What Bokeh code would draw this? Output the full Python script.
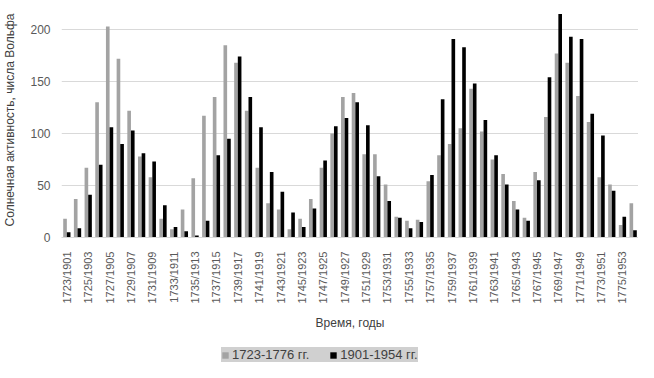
from bokeh.plotting import figure
from bokeh.layouts import column
from bokeh.models import (ColumnDataSource, Range1d, FixedTicker, Legend, LegendItem)
from bokeh.transform import dodge
from bokeh.embed import file_html
from bokeh.resources import INLINE
import math

labels = [f"{1723+i}/{1901+i}" for i in range(54)]
series_1723 = [18, 37, 67, 130, 203, 172, 122, 78, 58, 18, 8, 27, 57, 117, 135, 185,
               168, 122, 67, 33, 27, 8, 18, 37, 67, 100, 135, 139, 80, 80, 51, 20,
               16, 17, 54, 79, 90, 105, 143, 102, 75, 61, 35, 19, 63, 116, 177, 168,
               136, 111, 58, 51, 12, 33]
series_1901 = [5, 9, 41, 70, 106, 90, 103, 81, 73, 31, 10, 6, 2, 16, 79, 95,
               174, 135, 106, 63, 44, 24, 10, 28, 74, 107, 115, 130, 108, 59, 35, 19,
               9, 15, 60, 133, 191, 183, 148, 113, 79, 51, 27, 16, 55, 154, 215, 193,
               191, 119, 98, 45, 20, 7]
y_ticks = [0, 50, 100, 150, 200]
name_1 = "1723-1776 гг."
name_2 = "1901-1954 гг."
color_1 = "#a3a3a3"
color_2 = "#000000"

src = ColumnDataSource(dict(idx=list(range(len(labels))), a=series_1723, b=series_1901))

FONT = "Liberation Sans"
TXT = "#595959"

p = figure(width=638, height=335, output_backend="svg", toolbar_location=None,
           x_range=Range1d(-0.5, len(labels) - 0.5), y_range=Range1d(0, 226),
           min_border_left=49, min_border_right=0, min_border_top=2,
           min_border_bottom=98)
p.outline_line_color = None

p.vbar(x=dodge('idx', -0.17), top='a', width=0.34, source=src,
       fill_color=color_1, line_color=None)
p.vbar(x=dodge('idx', 0.17), top='b', width=0.34, source=src,
       fill_color=color_2, line_color=None)

p.xgrid.grid_line_color = None
p.ygrid.grid_line_color = "#d9d9d9"
p.ygrid.ticker = FixedTicker(ticks=y_ticks)

ya = p.yaxis[0]
ya.ticker = FixedTicker(ticks=y_ticks)
ya.axis_line_color = None
ya.major_tick_line_color = None
ya.minor_tick_line_color = None
ya.major_label_text_font = FONT
ya.major_label_text_font_size = "12px"
ya.major_label_text_color = TXT
ya.axis_label = "Солнечная активность, числа Вольфа"
ya.axis_label_text_font = FONT
ya.axis_label_text_font_size = "12px"
ya.axis_label_text_font_style = "normal"
ya.axis_label_text_color = "#404040"
ya.axis_label_standoff = 10

xa = p.xaxis[0]
xa.ticker = FixedTicker(ticks=list(range(0, len(labels), 2)))
xa.major_label_overrides = {i: labels[i] for i in range(0, len(labels), 2)}
xa.major_label_orientation = math.pi / 2
xa.axis_line_color = "#d9d9d9"
xa.major_tick_line_color = None
xa.minor_tick_line_color = None
xa.major_label_text_font = FONT
xa.major_label_text_font_size = "11px"
xa.major_label_text_color = TXT
xa.major_label_standoff = 8
xa.axis_label = "Время, годы"
xa.axis_label_text_font = FONT
xa.axis_label_text_font_size = "12px"
xa.axis_label_text_font_style = "normal"
xa.axis_label_text_color = "#404040"
xa.axis_label_standoff = 10

# legend strip: same series drawn out of view, used only for legend swatches
lf = figure(width=638, height=27, output_backend="svg", toolbar_location=None,
            x_range=Range1d(-200, -199), y_range=Range1d(0, 1),
            x_axis_location=None, y_axis_location=None,
            min_border_left=0, min_border_right=0, min_border_top=0,
            min_border_bottom=0)
lf.grid.visible = False
lf.outline_line_color = None
g1 = lf.vbar(x='idx', top='a', width=0.34, source=src, fill_color=color_1, line_color=None)
g2 = lf.vbar(x='idx', top='b', width=0.34, source=src, fill_color=color_2, line_color=None)
legend = Legend(items=[LegendItem(label=name_1, renderers=[g1], index=0),
                       LegendItem(label=name_2, renderers=[g2], index=0)],
                orientation="horizontal", location=(160, 0),
                background_fill_color="#d0d0d0", background_fill_alpha=1.0,
                border_line_color=None, label_text_font=FONT,
                label_text_font_size="13px", label_text_color="#404040",
                glyph_width=8, glyph_height=8, spacing=20, padding=6,
                label_standoff=3, margin=0, label_height=12)
lf.add_layout(legend, "center")

open("out.html", "w").write(file_html(column(p, lf, spacing=0), INLINE))
